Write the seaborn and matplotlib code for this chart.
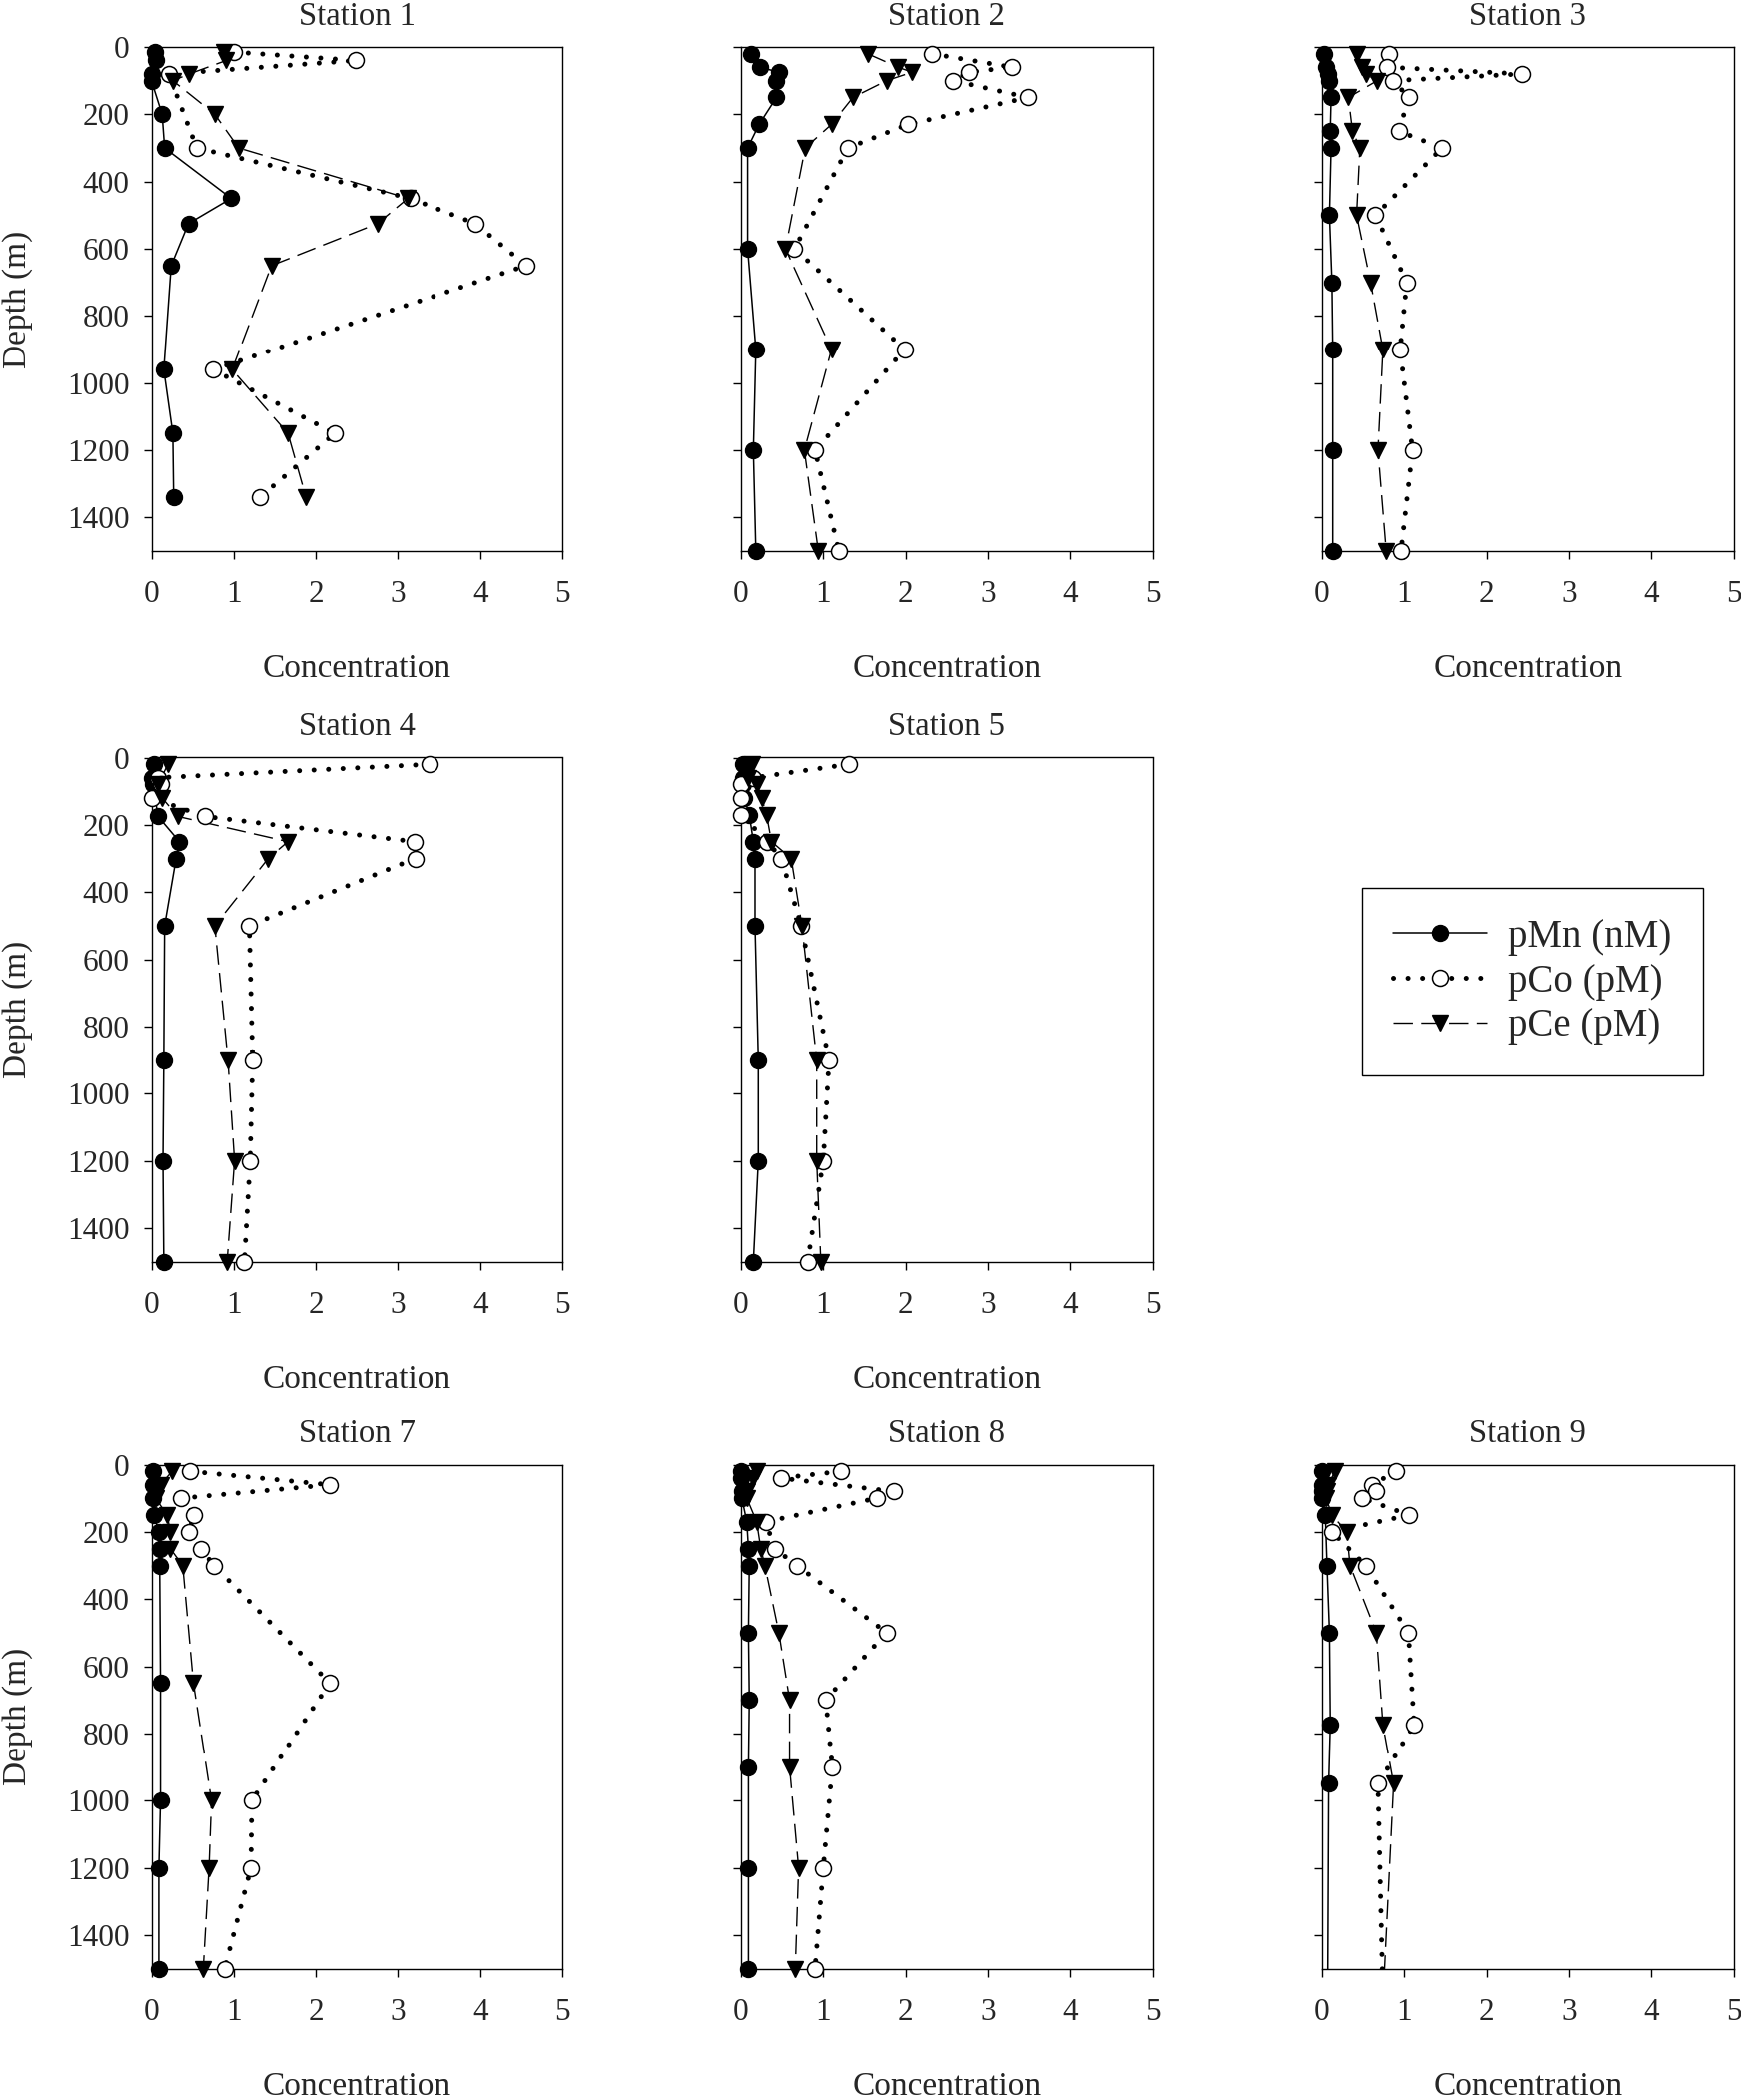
import numpy as np
import pandas as pd
import seaborn as sns
import matplotlib.pyplot as plt
from matplotlib.lines import Line2D

sns.set_style("ticks")
plt.rcParams["font.family"] = ["Liberation Serif", "DejaVu Serif"]

### Station 1
s1_mn_depth = [15, 40, 80, 100, 200, 300, 450, 525, 650, 960, 1150, 1340]
s1_mn = [0.04, 0.05, 0.01, 0.0, 0.13, 0.16, 0.97, 0.45, 0.24, 0.15, 0.26, 0.27]
s1_co_depth = [15, 40, 80, 300, 450, 525, 650, 960, 1150, 1340]
s1_co = [1.0, 2.49, 0.21, 0.55, 3.15, 3.94, 4.56, 0.75, 2.23, 1.32]
s1_ce_depth = [15, 40, 80, 100, 200, 300, 450, 525, 650, 960, 1150, 1340]
s1_ce = [0.88, 0.91, 0.46, 0.26, 0.77, 1.06, 3.12, 2.75, 1.46, 0.98, 1.66, 1.88]

### Station 2
s2_depth = [20, 60, 75, 100, 150, 230, 300, 600, 900, 1200, 1500]
s2_mn = [0.12, 0.23, 0.46, 0.43, 0.43, 0.22, 0.08, 0.08, 0.18, 0.15, 0.18]
s2_co = [2.32, 3.29, 2.77, 2.58, 3.49, 2.03, 1.30, 0.65, 1.99, 0.90, 1.19]
s2_ce = [1.54, 1.91, 2.08, 1.77, 1.36, 1.10, 0.78, 0.54, 1.10, 0.77, 0.94]

### Station 3
s3_depth = [20, 60, 80, 100, 150, 250, 300, 500, 700, 900, 1200, 1500]
s3_mn = [0.03, 0.05, 0.07, 0.08, 0.11, 0.10, 0.11, 0.09, 0.12, 0.13, 0.13, 0.13]
s3_co = [0.81, 0.79, 2.43, 0.86, 1.06, 0.93, 1.46, 0.65, 1.03, 0.95, 1.10, 0.96]
s3_ce = [0.42, 0.48, 0.53, 0.67, 0.32, 0.37, 0.46, 0.42, 0.59, 0.74, 0.68, 0.78]

### Station 4
s4_mn_depth = [20, 60, 80, 175, 250, 300, 500, 900, 1200, 1500]
s4_mn = [0.03, 0.01, 0.02, 0.08, 0.34, 0.30, 0.16, 0.15, 0.14, 0.15]
s4_co_depth = [20, 60, 80, 120, 175, 250, 300, 500, 900, 1200, 1500]
s4_co = [3.39, 0.08, 0.12, 0.0, 0.65, 3.20, 3.21, 1.19, 1.23, 1.20, 1.13]
s4_ce_depth = [20, 80, 120, 175, 250, 300, 500, 900, 1200, 1500]
s4_ce = [0.20, 0.08, 0.13, 0.32, 1.66, 1.42, 0.77, 0.93, 1.01, 0.92]

### Station 5
s5_depth = [20, 60, 80, 120, 170, 250, 300, 500, 900, 1200, 1500]
s5_mn = [0.02, 0.03, 0.02, 0.04, 0.10, 0.15, 0.17, 0.17, 0.21, 0.21, 0.15]
s5_co = [1.31, 0.15, 0.0, 0.0, 0.0, 0.32, 0.49, 0.73, 1.07, 1.00, 0.81]
s5_ce = [0.13, 0.09, 0.19, 0.25, 0.31, 0.37, 0.61, 0.74, 0.92, 0.92, 0.97]

### Station 7
s7_depth = [20, 60, 100, 150, 200, 250, 300, 650, 1000, 1200, 1500]
s7_mn = [0.02, 0.02, 0.02, 0.03, 0.09, 0.10, 0.10, 0.11, 0.11, 0.09, 0.09]
s7_co = [0.47, 2.17, 0.36, 0.52, 0.45, 0.60, 0.76, 2.17, 1.22, 1.21, 0.89]
s7_ce = [0.25, 0.11, 0.05, 0.19, 0.23, 0.23, 0.38, 0.51, 0.73, 0.70, 0.63]

### Station 8
s8_depth = [20, 40, 80, 100, 170, 250, 300, 500, 700, 900, 1200, 1500]
s8_mn = [0.0, 0.0, 0.01, 0.01, 0.07, 0.09, 0.10, 0.09, 0.10, 0.09, 0.09, 0.09]
s8_co = [1.22, 0.48, 1.86, 1.65, 0.30, 0.41, 0.68, 1.77, 1.03, 1.11, 1.00, 0.90]
s8_ce = [0.19, 0.15, 0.07, 0.07, 0.19, 0.24, 0.29, 0.46, 0.59, 0.59, 0.70, 0.66]

### Station 9 (deepest sample lies below the 1500 m axis limit)
s9_mn_depth = [20, 60, 80, 100, 150, 300, 500, 775, 950, 2000]
s9_mn = [0.0, 0.0, 0.0, 0.0, 0.04, 0.06, 0.09, 0.10, 0.08, 0.06]
s9_depth = [20, 60, 80, 100, 150, 200, 300, 500, 775, 950, 2000]
s9_co = [0.90, 0.61, 0.66, 0.49, 1.06, 0.12, 0.53, 1.05, 1.12, 0.68, 0.78]
s9_ce = [0.16, 0.07, 0.06, 0.05, 0.12, 0.30, 0.34, 0.66, 0.74, 0.87, 0.66]

profiles = {
    1: [("pMn", s1_mn_depth, s1_mn), ("pCo", s1_co_depth, s1_co), ("pCe", s1_ce_depth, s1_ce)],
    2: [("pMn", s2_depth, s2_mn), ("pCo", s2_depth, s2_co), ("pCe", s2_depth, s2_ce)],
    3: [("pMn", s3_depth, s3_mn), ("pCo", s3_depth, s3_co), ("pCe", s3_depth, s3_ce)],
    4: [("pMn", s4_mn_depth, s4_mn), ("pCo", s4_co_depth, s4_co), ("pCe", s4_ce_depth, s4_ce)],
    5: [("pMn", s5_depth, s5_mn), ("pCo", s5_depth, s5_co), ("pCe", s5_depth, s5_ce)],
    7: [("pMn", s7_depth, s7_mn), ("pCo", s7_depth, s7_co), ("pCe", s7_depth, s7_ce)],
    8: [("pMn", s8_depth, s8_mn), ("pCo", s8_depth, s8_co), ("pCe", s8_depth, s8_ce)],
    9: [("pMn", s9_mn_depth, s9_mn), ("pCo", s9_depth, s9_co), ("pCe", s9_depth, s9_ce)],
}

frames = []
for st, plist in profiles.items():
    for name, d, c in plist:
        frames.append(pd.DataFrame({"station": st, "element": name, "depth": d, "conc": c}))
df = pd.concat(frames, ignore_index=True)

legend_labels = {"pMn": "pMn (nM)", "pCo": "pCo (pM)", "pCe": "pCe (pM)"}
line_kw = {
    "pMn": dict(linestyle="-", linewidth=1.1),
    "pCo": dict(linestyle=(0, (0.01, 2.9)), linewidth=3.6, dash_capstyle="round"),
    "pCe": dict(linestyle=(0, (14, 6)), linewidth=1.0),
}
mark_kw = {
    "pMn": dict(marker="o", markersize=11.5, markerfacecolor="k", markeredgecolor="k", markeredgewidth=1.0),
    "pCo": dict(marker="o", markersize=11.5, markerfacecolor="w", markeredgecolor="k", markeredgewidth=1.1),
    "pCe": dict(marker="v", markersize=12, markerfacecolor="k", markeredgecolor="k", markeredgewidth=1.0),
}

# panel positions (pixels in the final image)
W, H = 1743, 2103
col_left = [151.5, 742, 1324]
row_bottom = [552, 1263.5, 1971.5]
pw, ph = 411.5, 505

grid = {1: (0, 0), 2: (0, 1), 3: (0, 2), 4: (1, 0), 5: (1, 1), 7: (2, 0), 8: (2, 1), 9: (2, 2)}

fig = plt.figure(figsize=(W / 100, H / 100), dpi=100)

for st, (r, c) in grid.items():
    ax = fig.add_axes([col_left[c] / W, (H - row_bottom[r]) / H, pw / W, ph / H])
    sub = df[df["station"] == st]
    for el in ["pMn", "pCo", "pCe"]:
        s = sub[sub["element"] == el]
        sns.lineplot(data=s, x="conc", y="depth", orient="y", sort=False, estimator=None,
                     color="k", ax=ax, zorder=2, **line_kw[el])
    for el in ["pMn", "pCo", "pCe"]:
        s = sub[(sub["element"] == el) & (sub["depth"] <= 1500)]
        sns.lineplot(data=s, x="conc", y="depth", orient="y", sort=False, estimator=None,
                     color="k", ax=ax, linestyle="none", clip_on=False, zorder=3, **mark_kw[el])
    ax.set_xlim(0, 5)
    ax.set_ylim(1500, 0)
    ax.set_xticks(range(0, 6))
    ax.set_yticks(range(0, 1500, 200))
    ax.tick_params(axis="both", direction="out", length=6, width=1, color="k", labelsize=22.5)
    ax.tick_params(axis="x", pad=15)
    ax.tick_params(axis="y", pad=10)
    for sp in ax.spines.values():
        sp.set_linewidth(1.0)
        sp.set_color("k")
    ax.set_title(f"Station {st}", fontsize=23.5, pad=16)
    ax.set_xlabel("Concentration", fontsize=24, labelpad=32)
    if c == 0:
        ax.set_ylabel("Depth (m)", fontsize=24, labelpad=24)
    else:
        ax.set_ylabel("")
        ax.set_yticklabels([])

handles = [Line2D([], [], color="k", **line_kw[el], **mark_kw[el]) for el in ["pMn", "pCo", "pCe"]]
leg = fig.legend(handles, [legend_labels[el] for el in ["pMn", "pCo", "pCe"]],
                 loc="center", bbox_to_anchor=(1534.5 / W, 1 - 983 / H),
                 fontsize=28, handlelength=2.4, handletextpad=0.55, labelspacing=0.2,
                 borderpad=0.8, fancybox=False, frameon=True, edgecolor="k", framealpha=1)
leg.get_frame().set_linewidth(1.0)

fig.savefig("out.png", dpi=100)
